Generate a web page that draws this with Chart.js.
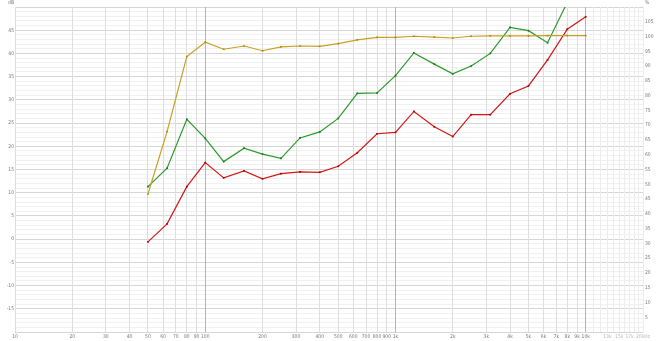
<!DOCTYPE html>
<html>
<head>
<meta charset="utf-8">
<script src="https://cdn.jsdelivr.net/npm/chart.js@4"></script>
<style>
  html, body { margin: 0; padding: 0; background: #fff; overflow: hidden; }
  #graph { display: block; }
</style>
</head>
<body>
<canvas id="graph" width="660" height="341"></canvas>
<script>
// frekuensi 1/3 oktaf
const freqs = [50, 63, 80, 100, 125, 160, 200, 250, 315, 400, 500, 630, 800,
  1000, 1250, 1600, 2000, 2500, 3150, 4000, 5000, 6300, 8000, 10000];

// nilai dB (sumbu kiri)
const greenDb = [11.3, 15.3, 25.8, 21.7, 16.7, 19.6, 18.3, 17.4, 21.8, 23.1, 26.0, 31.4, 31.5,
  35.2, 40.1, 37.7, 35.6, 37.3, 40.0, 45.6, 44.9, 42.3, 51.0, 54.0];
const redDb = [-0.6, 3.3, 11.3, 16.5, 13.2, 14.7, 13.0, 14.1, 14.5, 14.4, 15.7, 18.6, 22.7,
  23.0, 27.5, 24.2, 22.1, 26.8, 26.8, 31.3, 33.0, 38.6, 45.2, 47.9];

// nilai persen (sumbu kanan)
const goldPct = [46.7, 67.8, 93.2, 98.1, 95.7, 96.8, 95.2, 96.5, 96.8, 96.7, 97.6, 98.9, 99.7,
  99.7, 100.1, 99.8, 99.5, 100.1, 100.2, 100.2, 100.2, 100.3, 100.3, 100.3];

// garis grid & label sumbu x
const gridFreqs = [10, 20, 30, 40, 50, 60, 70, 80, 90, 100, 200, 300, 400, 500, 600, 700, 800, 900,
  1000, 2000, 3000, 4000, 5000, 6000, 7000, 8000, 9000, 10000,
  11000, 12000, 13000, 14000, 15000, 16000, 17000, 18000, 19000, 20000];
const freqLabels = {
  10: '10', 20: '20', 30: '30', 40: '40', 50: '50', 60: '60', 70: '70', 80: '80', 90: '90',
  100: '100', 200: '200', 300: '300', 400: '400', 500: '500', 600: '600', 700: '700', 800: '800', 900: '900',
  1000: '1k', 2000: '2k', 3000: '3k', 4000: '4k', 5000: '5k', 6000: '6k', 7000: '7k', 8000: '8k', 9000: '9k',
  10000: '10k', 13000: '13k', 15000: '15k', 17000: '17k', 20000: '20kHz'
};

const toPoints = vals => freqs.map((f, i) => ({ x: f, y: vals[i] }));

const tickFont = { family: 'DejaVu Sans Condensed', size: 5 };

// judul kecil di atas sumbu
const axisTitles = {
  id: 'axisTitles',
  afterDraw(chart) {
    const c = chart.ctx;
    c.save();
    c.font = '5px "DejaVu Sans Condensed"';
    c.fillStyle = '#777';
    c.textBaseline = 'middle';
    c.textAlign = 'right';
    c.fillText('dB', 14, 3);
    c.textAlign = 'left';
    c.fillText('%', 645, 3);
    c.restore();
  }
};

const chart = new Chart(document.getElementById('graph'), {
  type: 'line',
  data: {
    datasets: [
      {
        label: '%',
        data: toPoints(goldPct),
        yAxisID: 'yr',
        borderColor: '#c9a020',
        backgroundColor: '#b08a10'
      },
      {
        label: 'hijau',
        data: toPoints(greenDb),
        yAxisID: 'y',
        borderColor: '#2a9a2a',
        backgroundColor: '#1a7a1a'
      },
      {
        label: 'merah',
        data: toPoints(redDb),
        yAxisID: 'y',
        borderColor: '#d01818',
        backgroundColor: '#b00000'
      }
    ]
  },
  options: {
    responsive: false,
    animation: false,
    devicePixelRatio: 1,
    layout: { padding: { top: 7, left: 0, right: 0, bottom: 0 } },
    elements: {
      line: { borderWidth: 1.2, tension: 0 },
      point: { radius: 1.2, pointStyle: 'rect', borderWidth: 0 }
    },
    plugins: { legend: { display: false }, tooltip: { enabled: false } },
    scales: {
      x: {
        type: 'logarithmic',
        min: 10,
        max: 20000,
        afterBuildTicks: s => { s.ticks = gridFreqs.map(v => ({ value: v })); },
        afterFit: s => { s.height = 9; },
        border: { display: false },
        grid: {
          z: -1,
          drawTicks: false,
          lineWidth: 1,
          color: ctx => {
            const v = ctx.tick.value;
            if (v === 100 || v === 1000 || v === 10000) return '#b4b4b4';
            if (v > 10000) return '#ececec';
            return '#dedede';
          }
        },
        ticks: {
          autoSkip: false,
          maxRotation: 0,
          padding: 2,
          font: tickFont,
          color: ctx => (ctx.tick && ctx.tick.value > 10000 ? '#b8b8b8' : '#777'),
          callback: v => freqLabels[v] || ''
        }
      },
      y: {
        position: 'left',
        min: -20,
        max: 50,
        afterBuildTicks: s => {
          const t = [];
          for (let v = -20; v <= 50; v++) t.push({ value: v });
          s.ticks = t;
        },
        afterFit: s => { s.width = 15; },
        border: { display: false },
        grid: {
          z: -2,
          drawTicks: false,
          color: ctx => (ctx.tick.value % 5 === 0 ? '#d6d6d6' : '#f1f1f1')
        },
        ticks: {
          autoSkip: false,
          padding: 1,
          font: tickFont,
          color: '#777',
          callback: v => (v % 5 === 0 && v > -20 && v < 50 ? String(v) : '')
        }
      },
      yr: {
        position: 'right',
        min: 0,
        max: 110,
        afterBuildTicks: s => {
          const t = [];
          for (let v = 0; v <= 110; v += 5) t.push({ value: v });
          s.ticks = t;
        },
        afterFit: s => { s.width = 17; },
        border: { display: false },
        grid: { display: false, drawTicks: false },
        ticks: {
          autoSkip: false,
          padding: 2,
          font: tickFont,
          color: '#777',
          callback: v => (v > 0 && v < 110 ? String(v) : '')
        }
      }
    }
  },
  plugins: [axisTitles]
});
</script>
</body>
</html>
